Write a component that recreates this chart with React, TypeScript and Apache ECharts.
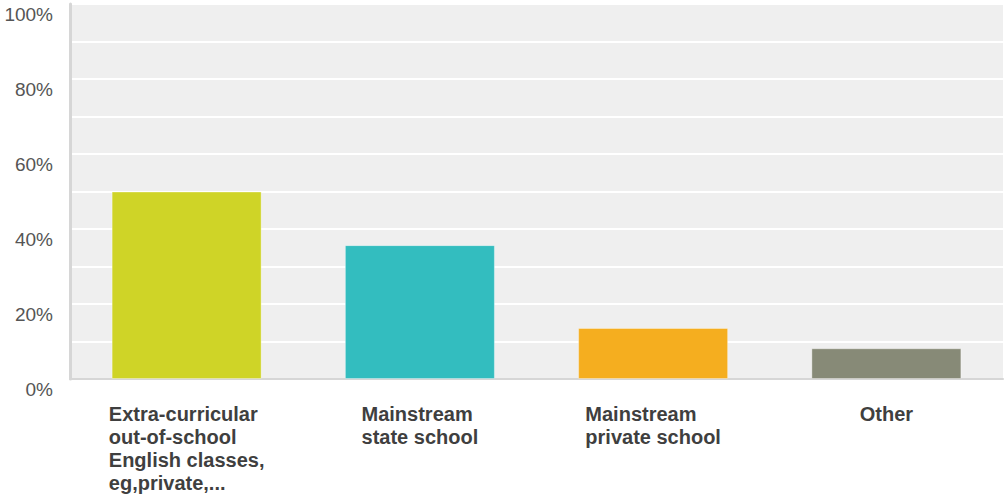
import React, { useEffect, useRef } from "react";
import * as echarts from "echarts";

const categories = [
  "Extra-curricular\nout-of-school\nEnglish classes,\neg,private,...",
  "Mainstream\nstate school",
  "Mainstream\nprivate school",
  "Other",
];
const values = [50.0, 35.7, 13.6, 8.2];
const barColors = ["#cfd427", "#33bdbf", "#f5ae1f", "#878a77"];
const yTicks = [0, 20, 40, 60, 80, 100];

export default function App() {
  const ref = useRef<HTMLDivElement>(null);
  useEffect(() => {
    document.body.style.margin = "0";
    const chart = echarts.init(ref.current!, null, { renderer: "svg" });
    chart.setOption({
      animation: false,
      grid: {
        left: 70,
        right: 2,
        top: 4,
        bottom: 116,
        containLabel: false,
        outerBoundsMode: "none",
        show: true,
        backgroundColor: "#efefef",
        borderWidth: 0,
      },
      xAxis: {
        type: "category",
        data: categories,
        axisLine: { show: true, lineStyle: { color: "#d6d6d6", width: 2 } },
        axisTick: { show: false },
        splitLine: { show: false },
        axisLabel: {
          interval: 0,
          margin: 23,
          align: "center",
          formatter: (v: string) =>
            v
              .split("\n")
              .map((l) => `{a|${l}}`)
              .join("\n"),
          rich: {
            a: {
              align: "left",
              fontFamily: "Liberation Sans, Arial, sans-serif",
              fontSize: 20,
              fontWeight: "bold",
              color: "#3f3f3f",
              lineHeight: 23,
            },
          },
        },
      },
      yAxis: {
        type: "value",
        min: 0,
        max: 100,
        interval: 10,
        axisLine: { show: true, lineStyle: { color: "#d6d6d6", width: 3 } },
        axisTick: { show: false },
        splitLine: { show: true, lineStyle: { color: "#ffffff", width: 2 } },
        axisLabel: {
          margin: 17,
          fontFamily: "Liberation Sans, Arial, sans-serif",
          fontSize: 19,
          color: "#555555",
          verticalAlign: "top",
          lineHeight: 20,
          formatter: (v: number) => (yTicks.includes(v) ? `${v}%` : ""),
        },
      },
      series: [
        {
          type: "bar",
          barWidth: 150,
          data: values.map((v, i) => ({
            value: v,
            itemStyle: {
              color: barColors[i],
              borderColor: "rgba(255,255,255,0.35)",
              borderWidth: 1,
            },
          })),
        },
      ],
    });
    return () => chart.dispose();
  }, []);
  return (
    <div
      ref={ref}
      style={{ position: "absolute", left: 0, top: 0, width: 1005, height: 495 }}
    />
  );
}
